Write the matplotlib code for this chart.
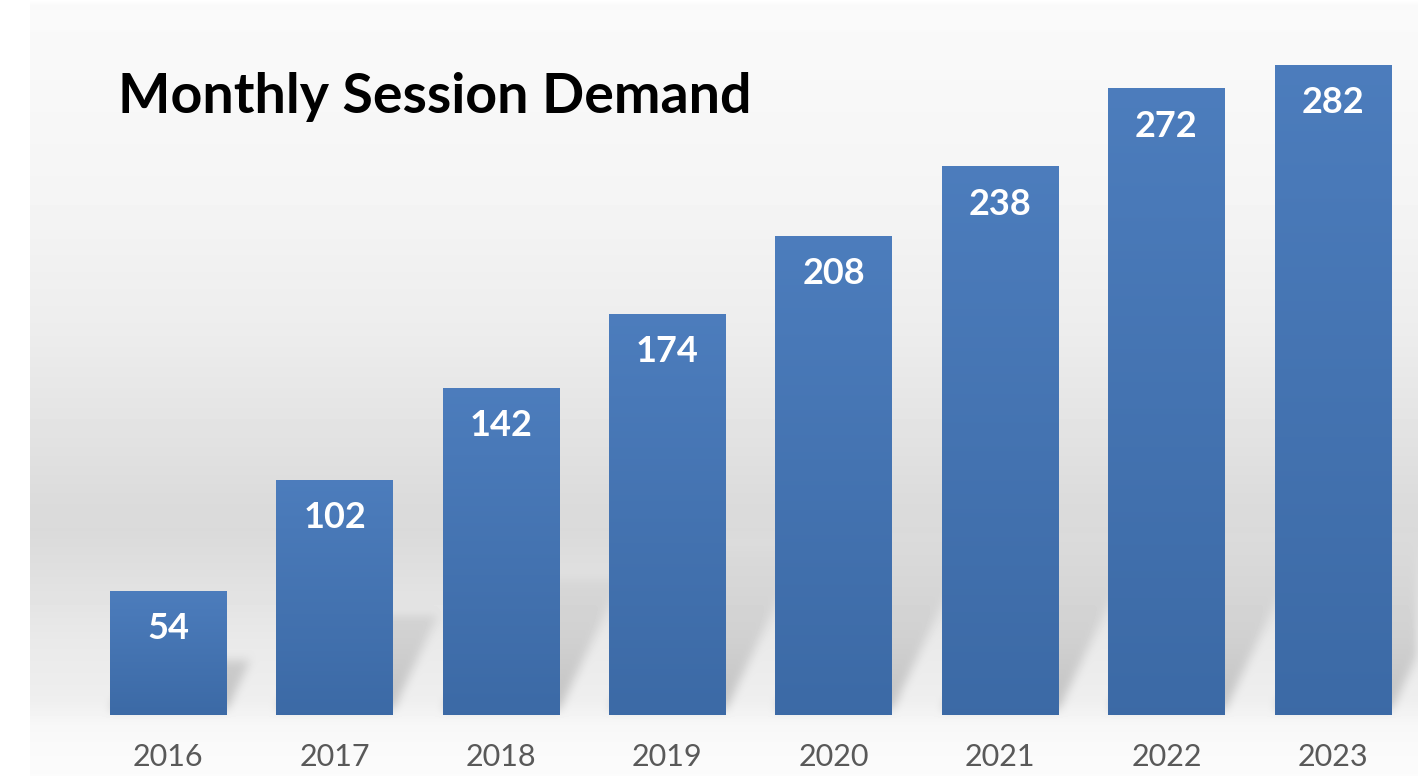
import numpy as np
import matplotlib
matplotlib.use("Agg")
import matplotlib.pyplot as plt
from matplotlib.colors import LinearSegmentedColormap

years = ["2016", "2017", "2018", "2019", "2020", "2021", "2022", "2023"]
sessions = [54, 102, 142, 174, 208, 238, 272, 282]
title = "Monthly Session Demand"

W, H, DPI = 1418, 776, 100
fig = plt.figure(figsize=(W / DPI, H / DPI), dpi=DPI)

# ---- background panel with gradient and bar shadows ----
bg_ax = fig.add_axes([0, 0, 1, 1], zorder=0)
bg_ax.set_axis_off()

ax = fig.add_axes([85 / W, (H - 715) / H, (1416 - 85) / W, 715 / H], zorder=1)
ax.set_xlim(-0.5, len(years) - 0.5)
ax.set_ylim(0, 715 / 2.305)
ax.patch.set_alpha(0)
for s in ax.spines.values():
    s.set_visible(False)
ax.tick_params(left=False, labelleft=False, bottom=False)

x = np.arange(len(years))
bw = 0.70

# gray level profile (pixel rows from top)
prof_y = [0, 5, 60, 200, 330, 430, 500, 530, 570, 640, 700, 725, 745, 776]
prof_v = [1.0, 0.978, 0.975, 0.958, 0.928, 0.89, 0.86, 0.855, 0.875, 0.915, 0.935, 0.97, 0.978, 0.985]
rows = np.interp(np.arange(H), prof_y, prof_v)
img = np.repeat(rows[:, None], W, axis=1)
img[:, :30] = 1.0

# shadows computed from bar geometry (bar projected on the back wall)
yy, xx = np.mgrid[0:H, 0:W].astype(float)
dark = np.zeros((H, W))
A, B = 0.19, 0.40
for xi, v in zip(x, sessions):
    (xl, yb) = ax.transData.transform((xi - bw / 2, 0))
    (xr, yt) = ax.transData.transform((xi + bw / 2, v))
    ybp = H - yb - 6
    h = yt - yb
    dy = ybp - yy
    sh = dy / B
    sx = xx - A * sh
    inside = (sh >= 0) & (sh <= h) & (sx >= xl) & (sx <= xr)
    inten = 0.19 * np.clip(1 - dy / 175.0, 0, 1) ** 1.1
    dark = np.maximum(dark, np.where(inside, inten, 0))

def box_blur(a, r):
    k = np.ones(2 * r + 1) / (2 * r + 1)
    a = np.apply_along_axis(lambda m: np.convolve(m, k, mode="same"), 0, a)
    a = np.apply_along_axis(lambda m: np.convolve(m, k, mode="same"), 1, a)
    return a

dark = box_blur(box_blur(dark, 5), 5)
dark[:, :30] = 0
img = img * (1 - dark)
bg_ax.imshow(img, cmap="gray", vmin=0, vmax=1, extent=(0, W, H, 0), aspect="auto",
             interpolation="bilinear")
bg_ax.set_xlim(0, W)
bg_ax.set_ylim(H, 0)

# ---- bars with vertical gradient ----
cmap = LinearSegmentedColormap.from_list("bar", [(0.235, 0.415, 0.650), (0.300, 0.490, 0.740)])
bars = ax.bar(x, sessions, width=bw, color=(0.28, 0.46, 0.71), zorder=2)
grad = np.linspace(0, 1, 256)[:, None]
for b in bars:
    im = ax.imshow(grad, cmap=cmap, origin="lower", aspect="auto", zorder=3,
                   extent=(b.get_x(), b.get_x() + b.get_width(), 0, b.get_height()))
    im.set_clip_path(b)
ax.set_xlim(-0.5, len(years) - 0.5)
ax.set_ylim(0, 715 / 2.305)

for xi, v in zip(x, sessions):
    ax.annotate(str(v), (xi, v), xytext=(0, -38), textcoords="offset pixels",
                ha="center", va="center", color="white", fontsize=26,
                fontweight="bold", family="Lato", zorder=4)

ax.set_xticks(x)
ax.set_xticklabels(years, fontsize=22, color="#595959", family="Lato")
ax.tick_params(axis="x", pad=17)

fig.text(118 / W, 1 - 97 / H, title, ha="left", va="center", fontsize=40,
         fontweight="bold", family="Lato", color="black", zorder=5)

fig.savefig("out.png", dpi=DPI)
